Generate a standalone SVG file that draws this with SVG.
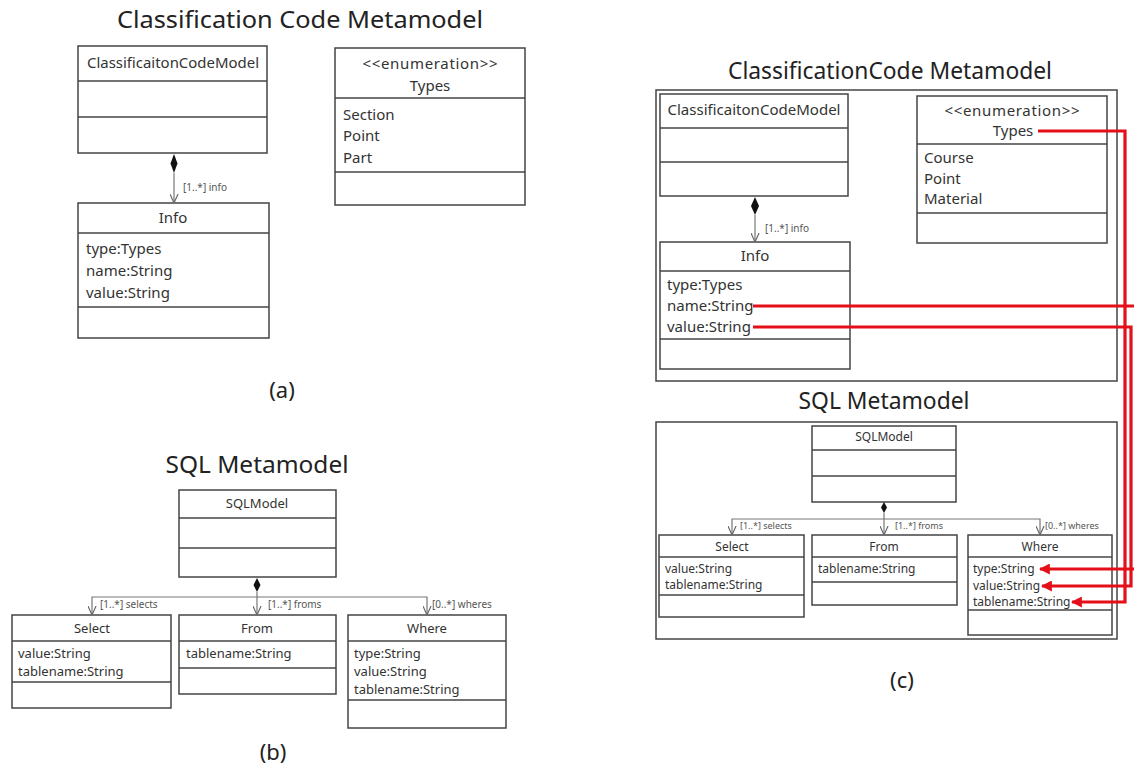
<svg xmlns="http://www.w3.org/2000/svg" width="1134" height="776" viewBox="0 0 1134 776">
<style>
text{font-family:"Noto Sans","Open Sans","DejaVu Sans",sans-serif;fill:#333}
.title{font-size:23px;fill:#222}
.cap{font-size:22px;fill:#222}
.box{fill:#fff;stroke:#444;stroke-width:1.5}
.div{stroke:#444;stroke-width:1.5}
.frame{fill:none;stroke:#444;stroke-width:1.5}
.n14{font-size:15px}
.a15{font-size:15px}
.n13{font-size:13px}
.n12{font-size:12px}
.lab10{font-size:10px;fill:#555}
.lab9{font-size:9px;fill:#555}
.assoc{fill:none;stroke:#777;stroke-width:1.2}
.dia{fill:#111}
.red{fill:none;stroke:#e3101a;stroke-width:3.2}
</style>
<defs>
<marker id="open" viewBox="0 0 10 10" refX="10" refY="5" markerWidth="9" markerHeight="9" markerUnits="userSpaceOnUse" orient="auto">
<path d="M0,0.5 L10,5 L0,9.5" fill="none" stroke="#666" stroke-width="1.3"/>
</marker>
<marker id="redarrow" viewBox="0 0 10 10" refX="9" refY="5" markerWidth="11" markerHeight="11" markerUnits="userSpaceOnUse" orient="auto">
<path d="M0,0 L10,5 L0,10 Z" fill="#e3101a"/>
</marker>
</defs>

<!-- (a) -->
<text class="title" x="300" y="28" text-anchor="middle" textLength="366" lengthAdjust="spacingAndGlyphs">Classification Code  Metamodel</text>
<g id="a-ccmodel">
<rect class="box" x="78" y="46" width="189" height="107"/>
<line class="div" x1="78" y1="81" x2="267" y2="81"/>
<line class="div" x1="78" y1="117" x2="267" y2="117"/>
<text class="n14" x="173" y="68" text-anchor="middle" textLength="172" lengthAdjust="spacingAndGlyphs">ClassificaitonCodeModel</text>
</g>
<g id="a-types">
<rect class="box" x="335" y="48" width="190" height="157"/>
<line class="div" x1="335" y1="98" x2="525" y2="98"/>
<line class="div" x1="335" y1="172" x2="525" y2="172"/>
<text class="a15" x="430" y="69" text-anchor="middle" textLength="135" lengthAdjust="spacing">&lt;&lt;enumeration&gt;&gt;</text>
<text class="a15" x="430" y="91" text-anchor="middle">Types</text>
<text class="a15" x="343" y="120">Section</text>
<text class="a15" x="343" y="141">Point</text>
<text class="a15" x="343" y="163">Part</text>
</g>
<g id="a-info">
<rect class="box" x="78" y="203" width="191" height="135"/>
<line class="div" x1="78" y1="233" x2="269" y2="233"/>
<line class="div" x1="78" y1="307" x2="269" y2="307"/>
<text class="a15" x="173" y="223" text-anchor="middle">Info</text>
<text class="a15" x="86" y="254">type:Types</text>
<text class="a15" x="86" y="276">name:String</text>
<text class="a15" x="86" y="298">value:String</text>
</g>
<text class="cap" x="282" y="398" text-anchor="middle">(a)</text>

<!-- (b) -->
<text class="title" x="257" y="473" text-anchor="middle" textLength="183" lengthAdjust="spacingAndGlyphs">SQL Metamodel</text>
<g id="b-sqlmodel">
<rect class="box" x="179" y="490" width="157" height="87"/>
<line class="div" x1="179" y1="518" x2="336" y2="518"/>
<line class="div" x1="179" y1="548" x2="336" y2="548"/>
<text class="n13" x="257" y="508" text-anchor="middle">SQLModel</text>
</g>
<g id="b-select">
<rect class="box" x="12" y="615" width="159" height="93"/>
<line class="div" x1="12" y1="641" x2="171" y2="641"/>
<line class="div" x1="12" y1="682" x2="171" y2="682"/>
<text class="n13" x="92" y="633" text-anchor="middle">Select</text>
<text class="n13" x="18" y="658">value:String</text>
<text class="n13" x="18" y="676">tablename:String</text>
</g>
<g id="b-from">
<rect class="box" x="179" y="615" width="157" height="79"/>
<line class="div" x1="179" y1="641" x2="336" y2="641"/>
<line class="div" x1="179" y1="668" x2="336" y2="668"/>
<text class="n13" x="257" y="633" text-anchor="middle">From</text>
<text class="n13" x="186" y="658">tablename:String</text>
</g>
<g id="b-where">
<rect class="box" x="348" y="615" width="158" height="113"/>
<line class="div" x1="348" y1="641" x2="506" y2="641"/>
<line class="div" x1="348" y1="700" x2="506" y2="700"/>
<text class="n13" x="427" y="633" text-anchor="middle">Where</text>
<text class="n13" x="354" y="658">type:String</text>
<text class="n13" x="354" y="676">value:String</text>
<text class="n13" x="354" y="694">tablename:String</text>
</g>
<text class="cap" x="273" y="760" text-anchor="middle">(b)</text>

<!-- (c) -->
<text class="title" x="890" y="79" text-anchor="middle" textLength="324" lengthAdjust="spacingAndGlyphs">ClassificationCode  Metamodel</text>
<rect class="frame" x="656" y="90" width="461" height="291"/>
<g id="c-ccmodel">
<rect class="box" x="660" y="94" width="188" height="102"/>
<line class="div" x1="660" y1="128" x2="848" y2="128"/>
<line class="div" x1="660" y1="162" x2="848" y2="162"/>
<text class="n14" x="754" y="115" text-anchor="middle" textLength="173" lengthAdjust="spacingAndGlyphs">ClassificaitonCodeModel</text>
</g>
<g id="c-types">
<rect class="box" x="917" y="96" width="190" height="147"/>
<line class="div" x1="917" y1="144" x2="1107" y2="144"/>
<line class="div" x1="917" y1="213" x2="1107" y2="213"/>
<text class="a15" x="1012" y="116" text-anchor="middle" textLength="135" lengthAdjust="spacing">&lt;&lt;enumeration&gt;&gt;</text>
<text class="a15" x="1013" y="136" text-anchor="middle">Types</text>
<text class="a15" x="924" y="163">Course</text>
<text class="a15" x="924" y="184">Point</text>
<text class="a15" x="924" y="204">Material</text>
</g>
<g id="c-info">
<rect class="box" x="660" y="242" width="190" height="127"/>
<line class="div" x1="660" y1="271" x2="850" y2="271"/>
<line class="div" x1="660" y1="339" x2="850" y2="339"/>
<text class="a15" x="755" y="261" text-anchor="middle">Info</text>
<text class="a15" x="667" y="290">type:Types</text>
<text class="a15" x="667" y="311">name:String</text>
<text class="a15" x="667" y="332">value:String</text>
</g>

<text class="title" x="884" y="409" text-anchor="middle" textLength="171" lengthAdjust="spacingAndGlyphs">SQL Metamodel</text>
<rect class="frame" x="656" y="422" width="461" height="217"/>
<g id="c-sqlmodel">
<rect class="box" x="812" y="426" width="144" height="76"/>
<line class="div" x1="812" y1="450" x2="956" y2="450"/>
<line class="div" x1="812" y1="476" x2="956" y2="476"/>
<text class="n12" x="884" y="441" text-anchor="middle">SQLModel</text>
</g>
<g id="c-select">
<rect class="box" x="659" y="535" width="145" height="82"/>
<line class="div" x1="659" y1="557" x2="804" y2="557"/>
<line class="div" x1="659" y1="595" x2="804" y2="595"/>
<text class="n12" x="732" y="551" text-anchor="middle">Select</text>
<text class="n12" x="665" y="573">value:String</text>
<text class="n12" x="665" y="589">tablename:String</text>
</g>
<g id="c-from">
<rect class="box" x="812" y="535" width="145" height="70"/>
<line class="div" x1="812" y1="557" x2="957" y2="557"/>
<line class="div" x1="812" y1="582" x2="957" y2="582"/>
<text class="n12" x="884" y="551" text-anchor="middle">From</text>
<text class="n12" x="818" y="573">tablename:String</text>
</g>
<g id="c-where">
<rect class="box" x="968" y="535" width="144" height="100"/>
<line class="div" x1="968" y1="557" x2="1112" y2="557"/>
<line class="div" x1="968" y1="610" x2="1112" y2="610"/>
<text class="n12" x="1040" y="551" text-anchor="middle">Where</text>
<text class="n12" x="973" y="573">type:String</text>
<text class="n12" x="973" y="590">value:String</text>
<text class="n12" x="973" y="606">tablename:String</text>
</g>
<text class="cap" x="902" y="688" text-anchor="middle">(c)</text>

<g id="connectors">
<!-- (a) composition -->
<path class="dia" d="M174,154 L177.5,163.5 L174,173 L170.5,163.5 Z"/>
<path class="assoc" d="M174,173 L174,203" marker-end="url(#open)"/>
<text class="lab10" x="183" y="191">[1..*] info</text>
<!-- (b) compositions -->
<path class="dia" d="M257,578 L260.5,585 L257,592 L253.5,585 Z"/>
<path class="assoc" d="M257,592 L257,615" marker-end="url(#open)"/>
<path class="assoc" d="M257,597 L92,597 L92,615" marker-end="url(#open)"/>
<path class="assoc" d="M257,597 L427,597 L427,615" marker-end="url(#open)"/>
<text class="lab10" x="100" y="608">[1..*] selects</text>
<text class="lab10" x="268" y="608">[1..*] froms</text>
<text class="lab10" x="432" y="608">[0..*] wheres</text>
<!-- (c) composition -->
<path class="dia" d="M755,197 L759,206 L755,215 L751,206 Z"/>
<path class="assoc" d="M755,215 L755,242" marker-end="url(#open)"/>
<text class="lab10" x="765" y="232">[1..*] info</text>
<path class="dia" d="M884,502 L887,507.5 L884,513 L881,507.5 Z"/>
<path class="assoc" d="M884,513 L884,535" marker-end="url(#open)"/>
<path class="assoc" d="M884,519 L732,519 L732,535" marker-end="url(#open)"/>
<path class="assoc" d="M884,519 L1040,519 L1040,535" marker-end="url(#open)"/>
<text class="lab9" x="740" y="529">[1..*] selects</text>
<text class="lab9" x="895" y="529">[1..*] froms</text>
<text class="lab9" x="1045" y="529">[0..*] wheres</text>
<!-- red mappings -->
<path class="red" d="M1038,131 L1125,131 L1125,602 L1072,602" marker-end="url(#redarrow)"/>
<path class="red" d="M753,306 L1137,306 L1137,569 L1040,569" marker-end="url(#redarrow)"/>
<path class="red" d="M753,327 L1131,327 L1131,586 L1042,586" marker-end="url(#redarrow)"/>
</g>
</svg>
